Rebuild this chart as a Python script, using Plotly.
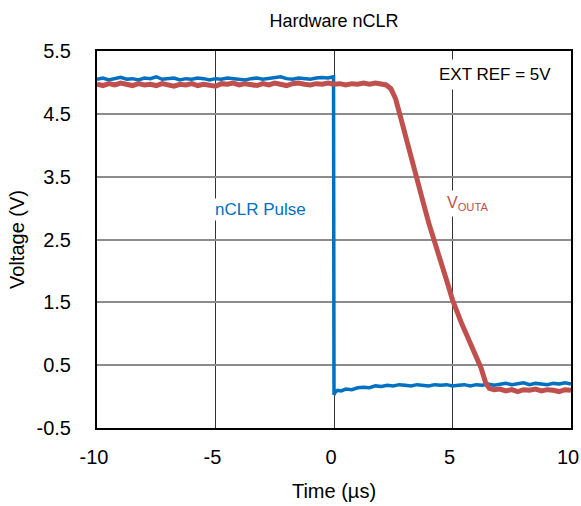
import plotly.graph_objects as go

# nCLR pulse (blue)
blue_t = [-10, -9.75, -9.5, -9.25, -9, -8.75, -8.5, -8.25, -8, -7.75, -7.5, -7.25, -7, -6.75, -6.5, -6.25,
          -6, -5.75, -5.5, -5.25, -5, -4.75, -4.5, -4.25, -4, -3.75, -3.5, -3.25, -3, -2.75, -2.5, -2.25,
          -2, -1.75, -1.5, -1.25, -1, -0.75, -0.5, -0.25, -0.02, 0.0, 0.05, 0.15, 0.3, 0.5, 0.75, 1.0,
          1.25, 1.5, 1.75, 2.0, 2.25, 2.5, 2.75, 3.0, 3.25, 3.5, 3.75, 4.0, 4.25, 4.5, 4.75, 5.0, 5.25,
          5.5, 5.75, 6.0, 6.25, 6.5, 6.75, 7.0, 7.25, 7.5, 7.75, 8.0, 8.25, 8.5, 8.75, 9.0, 9.25, 9.5,
          9.75, 10]
blue_v = [5.05, 5.07, 5.04, 5.06, 5.08, 5.05, 5.06, 5.04, 5.07, 5.06, 5.09, 5.05, 5.06, 5.07, 5.04, 5.06,
          5.05, 5.07, 5.06, 5.04, 5.06, 5.05, 5.07, 5.06, 5.05, 5.04, 5.06, 5.07, 5.05, 5.06, 5.08, 5.09,
          5.06, 5.05, 5.07, 5.06, 5.05, 5.07, 5.08, 5.07, 5.09, 0.03, 0.07, 0.10, 0.09, 0.12, 0.11, 0.14,
          0.15, 0.14, 0.17, 0.16, 0.18, 0.17, 0.19, 0.18, 0.17, 0.19, 0.18, 0.17, 0.19, 0.18, 0.19, 0.17,
          0.18, 0.19, 0.17, 0.19, 0.18, 0.20, 0.18, 0.19, 0.21, 0.19, 0.20, 0.22, 0.19, 0.21, 0.20, 0.19,
          0.21, 0.20, 0.22, 0.20]

# VOUTA (red)
red_t = [-10, -9.75, -9.5, -9.25, -9, -8.75, -8.5, -8.25, -8, -7.75, -7.5, -7.25, -7, -6.75, -6.5, -6.25,
         -6, -5.75, -5.5, -5.25, -5, -4.75, -4.5, -4.25, -4, -3.75, -3.5, -3.25, -3, -2.75, -2.5, -2.25,
         -2, -1.75, -1.5, -1.25, -1, -0.75, -0.5, -0.25, 0, 0.25, 0.5, 0.75, 1.0, 1.25, 1.5, 1.75, 2.0,
         2.2, 2.4, 2.6, 2.8, 3.0, 3.2, 3.4, 3.6, 3.8, 4.0, 4.2, 4.4, 4.6, 4.8, 5.0, 5.2, 5.4, 5.6, 5.8,
         6.0, 6.2, 6.4, 6.55, 6.75, 7.0, 7.25, 7.5, 7.75, 8.0, 8.25, 8.5, 8.75, 9.0, 9.25, 9.5, 9.75, 10]
red_v = [4.97, 4.95, 4.98, 4.96, 4.99, 4.97, 4.95, 4.98, 4.96, 4.97, 4.95, 4.98, 4.96, 4.94, 4.97, 4.96,
         4.98, 4.95, 4.97, 4.96, 4.94, 4.98, 4.97, 4.99, 4.96, 4.98, 4.97, 4.95, 4.98, 4.96, 4.99, 4.97,
         4.95, 4.98, 4.99, 4.97, 4.96, 4.98, 4.97, 4.99, 4.97, 4.98, 4.96, 4.98, 4.97, 4.99, 4.97, 4.99, 4.97,
         4.96, 4.90, 4.74, 4.46, 4.16, 3.86, 3.60, 3.32, 3.04, 2.76, 2.50, 2.27, 2.04, 1.79, 1.54, 1.33,
         1.15, 0.98, 0.82, 0.64, 0.46, 0.22, 0.13, 0.11, 0.12, 0.09, 0.11, 0.08, 0.11, 0.10, 0.12, 0.09,
         0.11, 0.10, 0.08, 0.11, 0.10]

x_ticks = [-10, -5, 0, 5, 10]
x_tick_labels = ["-10", "-5", "0", "5", "10"]
y_ticks = [-0.5, 0.5, 1.5, 2.5, 3.5, 4.5, 5.5]
y_tick_labels = ["-0.5", "0.5", "1.5", "2.5", "3.5", "4.5", "5.5"]

BLUE = "#0070C0"
RED = "#C0504D"

fig = go.Figure()
fig.add_trace(go.Scatter(x=blue_t, y=blue_v, mode="lines", line=dict(color=BLUE, width=3.5),
                         showlegend=False, hoverinfo="skip"))
fig.add_trace(go.Scatter(x=red_t, y=red_v, mode="lines", line=dict(color=RED, width=5),
                         showlegend=False, hoverinfo="skip"))

font_family = "Liberation Sans, Arial, sans-serif"

fig.update_layout(
    width=581, height=506,
    margin=dict(l=97, r=10, t=51, b=78, autoexpand=False),
    paper_bgcolor="white", plot_bgcolor="white",
    font=dict(family=font_family, color="black"),
    title=dict(text="Hardware nCLR", x=0.575, xanchor="center", y=0.96, yanchor="middle",
               font=dict(size=18, color="black")),
    xaxis=dict(range=[-10, 10], tickvals=x_ticks, ticktext=x_tick_labels,
               showgrid=True, gridcolor="#333333", gridwidth=1, automargin=False,
               showline=True, linecolor="black", linewidth=2, mirror=True,
               zeroline=False, ticks="", tickfont=dict(size=20), ticklabelstandoff=10,
               ticklabelshift=-3, ticklabeloverflow="allow",
               title=dict(text="Time (µs)", font=dict(size=20), standoff=17)),
    yaxis=dict(range=[-0.5, 5.5], tickvals=y_ticks, ticktext=y_tick_labels,
               showgrid=True, gridcolor="#8c8c8c", gridwidth=1.5, automargin=False,
               showline=True, linecolor="black", linewidth=2, mirror=True,
               zeroline=False, ticks="", tickfont=dict(size=20), ticklabelstandoff=20,
               ticklabeloverflow="allow",
               title=dict(text="Voltage (V)", font=dict(size=20), standoff=7)),
)

fig.add_annotation(x=-3.1, y=2.97, text="nCLR Pulse", showarrow=False,
                   font=dict(size=17, color=BLUE), bgcolor="white")
fig.add_annotation(x=5.65, y=3.08, text="V<sub>OUTA</sub>", showarrow=False,
                   font=dict(size=16, color=RED), bgcolor="white", borderpad=3)
fig.add_annotation(x=6.8, y=5.13, text="EXT REF = 5V", showarrow=False,
                   font=dict(size=17, color="black"), bgcolor="white", borderpad=5)

fig.write_html("out.html", config={"displayModeBar": False},
               post_script="document.body.style.margin='0';")
